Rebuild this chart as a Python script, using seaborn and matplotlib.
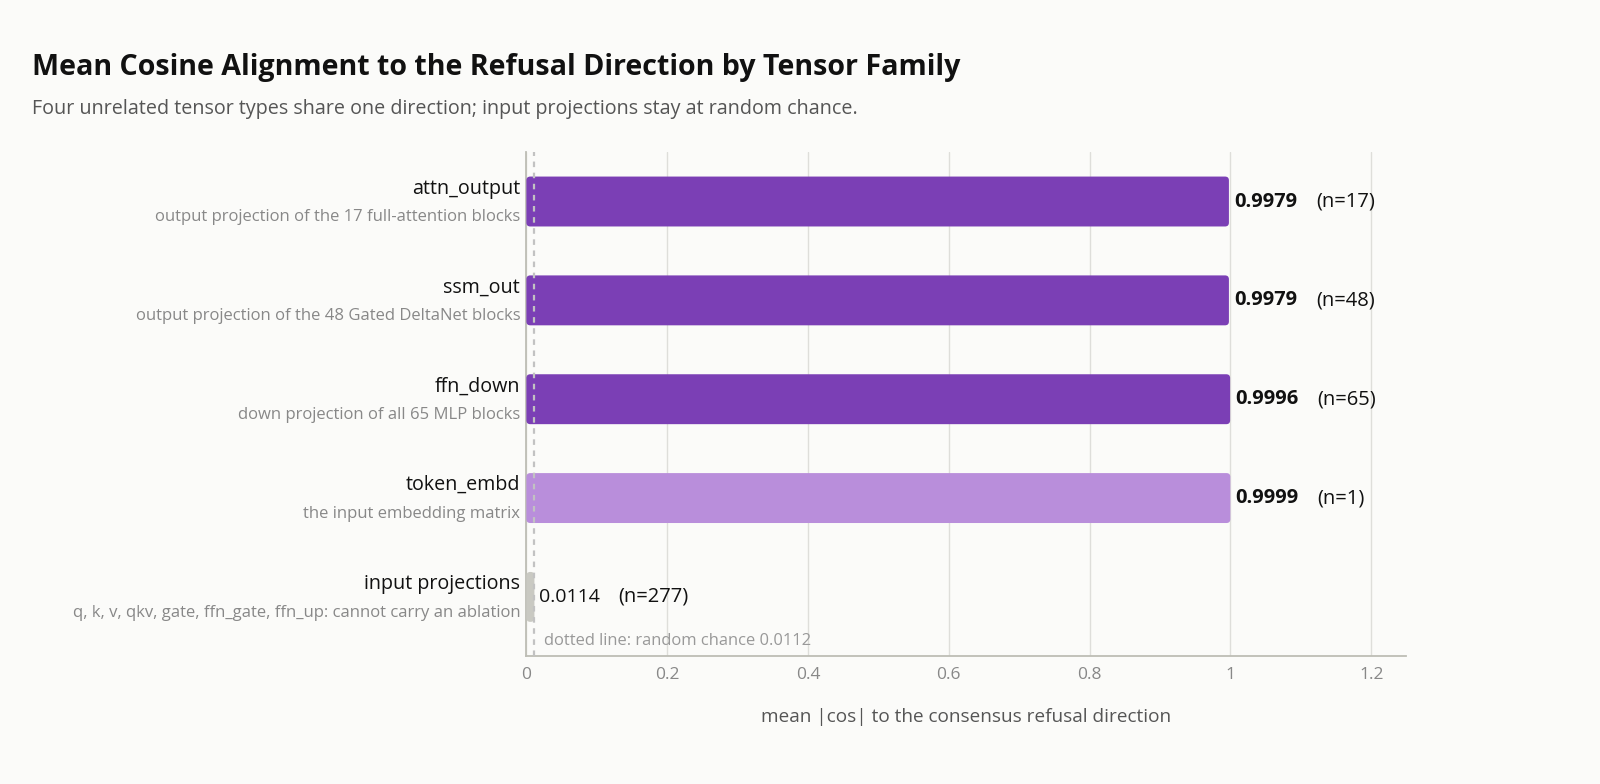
import numpy as np
import pandas as pd
import matplotlib.pyplot as plt
import seaborn as sns
from matplotlib.patches import FancyBboxPatch
from matplotlib.ticker import FuncFormatter
import matplotlib.transforms as mtransforms

# data
families = ["attn_output", "ssm_out", "ffn_down", "token_embd", "input projections"]
descriptions = [
    "output projection of the 17 full-attention blocks",
    "output projection of the 48 Gated DeltaNet blocks",
    "down projection of all 65 MLP blocks",
    "the input embedding matrix",
    "q, k, v, qkv, gate, ffn_gate, ffn_up: cannot carry an ablation",
]
mean_cos = [0.9979, 0.9979, 0.9996, 0.9999, 0.0114]
counts = [17, 48, 65, 1, 277]
random_chance = 0.0112
bar_colors = ["#7B3FB5", "#7B3FB5", "#7B3FB5", "#B98EDB", "#C9C9C2"]

BG = "#FBFBF9"

sns.set_theme(style="white")
plt.rcParams["font.family"] = ["Open Sans", "DejaVu Sans"]

df = pd.DataFrame({"family": families, "mean": mean_cos})

fig = plt.figure(figsize=(16, 7.84), dpi=100, facecolor=BG)
ax = fig.add_axes([0.329, 0.163, 0.55, 0.643])
ax.set_facecolor(BG)

sns.barplot(data=df, x="mean", y="family", hue="family", palette=bar_colors,
            legend=False, width=0.505, ax=ax, zorder=3)

# swap plain bars for rounded ones
for patch, col in zip(list(ax.patches), bar_colors):
    x0, y0 = patch.get_x(), patch.get_y()
    w, h = patch.get_width(), patch.get_height()
    patch.remove()
    rb = FancyBboxPatch((x0, y0), w, h,
                        boxstyle="round,pad=0,rounding_size=0.0055",
                        mutation_aspect=7.0, facecolor=col, edgecolor="none",
                        zorder=3)
    ax.add_patch(rb)

ax.set_xlim(0, 1.25)
ax.set_ylim(4.6, -0.5)
ax.set_xticks([0, 0.2, 0.4, 0.6, 0.8, 1.0, 1.2])
ax.xaxis.set_major_formatter(FuncFormatter(lambda v, p: f"{v:g}"))
ax.tick_params(axis="x", labelsize=12.5, labelcolor="#888888", length=0, pad=8)
ax.set_yticks([])
ax.set_ylabel("")
ax.set_xlabel("mean |cos| to the consensus refusal direction", fontsize=13.7,
              color="#555555", labelpad=18)
ax.grid(axis="x", color="#DEDEDA", linewidth=1, zorder=0)
ax.set_axisbelow(True)
for s in ["top", "right"]:
    ax.spines[s].set_visible(False)
for s in ["left", "bottom"]:
    ax.spines[s].set_color("#BDBDB5")
    ax.spines[s].set_linewidth(1.3)

ax.axvline(random_chance, color="#C2C2C2", linestyle=(0, (2.5, 2.5)),
           linewidth=1.6, zorder=4)

# category labels
ytrans = mtransforms.blended_transform_factory(ax.transAxes, ax.transData)
for i, (fam, desc) in enumerate(zip(families, descriptions)):
    ax.text(-0.007, i - 0.13, fam, transform=ytrans, ha="right", va="center",
            fontsize=14.2, color="#111111")
    ax.text(-0.007, i + 0.16, desc, transform=ytrans, ha="right", va="center",
            fontsize=12, color="#888888")

# value labels
px = 72 / 100
for i, (v, n) in enumerate(zip(mean_cos, counts)):
    strong = v > 0.5
    ax.annotate(f"{v:.4f}", (v, i), xytext=(5 * px, 0), textcoords="offset points",
                ha="left", va="center", fontsize=14.5 if strong else 14,
                fontweight="bold" if strong else "normal", color="#111111")
    ax.annotate(f"(n={n})", (v, i), xytext=((87 if strong else 84) * px, 0),
                textcoords="offset points", ha="left", va="center",
                fontsize=14.5, color="#111111")

ax.text(random_chance + 0.014, 4.45, f"dotted line: random chance {random_chance}",
        ha="left", va="center", fontsize=11.9, color="#999999")

fig.text(0.02, 0.914, "Mean Cosine Alignment to the Refusal Direction by Tensor Family",
         fontsize=20.6, fontweight="bold", color="#111111", ha="left", va="center")
fig.text(0.02, 0.861, "Four unrelated tensor types share one direction; input projections stay at random chance.",
         fontsize=14.2, color="#555555", ha="left", va="center")

fig.savefig("out.png", dpi=100, facecolor=BG)
